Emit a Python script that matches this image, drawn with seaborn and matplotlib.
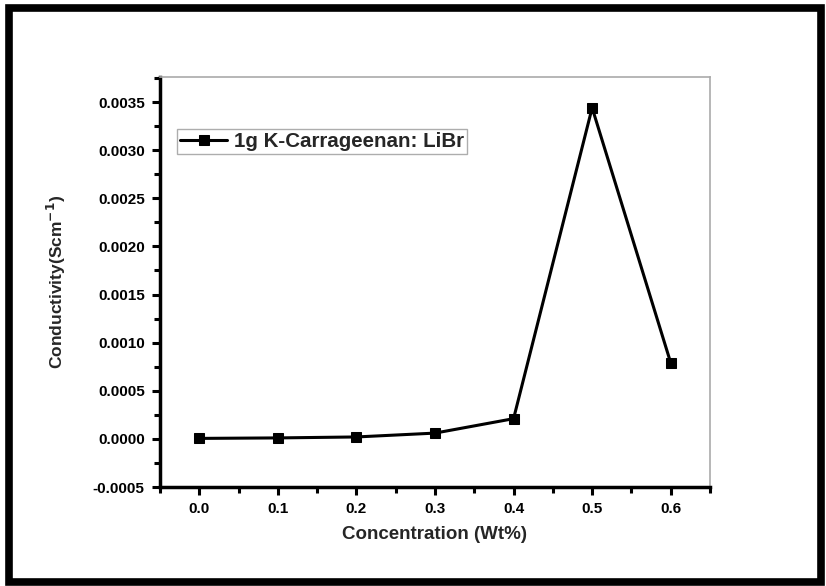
import matplotlib
matplotlib.use("Agg")
import matplotlib.pyplot as plt
import seaborn as sns
import pandas as pd
from matplotlib.patches import Rectangle
from matplotlib.ticker import MultipleLocator

concentration = [0.0, 0.1, 0.2, 0.3, 0.4, 0.5, 0.6]
conductivity = [0.000005, 0.00001, 0.00002, 0.00006, 0.00021, 0.00344, 0.00079]
series_label = "1g K-Carrageenan: LiBr"

sns.set_theme(style="white")
plt.rcParams['font.family'] = ['Liberation Sans', 'DejaVu Sans']
plt.rcParams['font.weight'] = 'bold'

df = pd.DataFrame({"x": concentration, "y": conductivity, "s": series_label})

fig = plt.figure(figsize=(8.26, 5.86), dpi=100)
ax = fig.add_axes([160/826, 1-487/586, 550/826, 410/586])

sns.lineplot(data=df, x="x", y="y", hue="s", palette=["black"], marker="s",
             markersize=7, markeredgecolor="black", linewidth=2.2, ax=ax, legend=True)

ax.set_xlim(-0.05, 0.65)
ax.set_ylim(-0.0005, 0.00376)
ax.xaxis.set_minor_locator(MultipleLocator(0.05))
ax.yaxis.set_minor_locator(MultipleLocator(0.00025))
ax.set_xticks([0.0, 0.1, 0.2, 0.3, 0.4, 0.5, 0.6])
ax.set_xticklabels(["0.0", "0.1", "0.2", "0.3", "0.4", "0.5", "0.6"])
yt = [-0.0005, 0.0, 0.0005, 0.0010, 0.0015, 0.0020, 0.0025, 0.0030, 0.0035]
ax.set_yticks(yt)
ax.set_yticklabels([f"{v:.4f}" for v in yt])

for s in ["left", "bottom"]:
    ax.spines[s].set_linewidth(2.5)
    ax.spines[s].set_color("black")
for s in ["top", "right"]:
    ax.spines[s].set_linewidth(1.2)
    ax.spines[s].set_color("#aaaaaa")

ax.tick_params(axis="both", which="major", direction="out", length=6, width=2.2,
               labelsize=11, colors="black")
ax.tick_params(axis="x", which="major", pad=5)
ax.tick_params(axis="y", which="major", pad=5)
ax.tick_params(axis="both", which="minor", direction="out", length=4, width=2.2, colors="black")
ax.tick_params(top=False, right=False, which="both")
ax.tick_params(left=True, bottom=True, which="both")
for lab in ax.get_xticklabels() + ax.get_yticklabels():
    lab.set_fontweight("bold")

ax.set_xlabel("Concentration (Wt%)", fontsize=13.5, fontweight="bold", labelpad=7)
ax.set_ylabel("Conductivity(Scm$^{\\mathbf{-1}}$)", fontsize=12.5, fontweight="bold", labelpad=18)

leg = ax.legend(loc="upper left", bbox_to_anchor=(0.031, 0.873), frameon=True, fancybox=False,
                fontsize=14.8, handlelength=2.3, borderpad=0.15, handletextpad=0.3,
                borderaxespad=0)
leg.get_frame().set_edgecolor("#999999")
leg.get_frame().set_linewidth(1.0)
for t in leg.get_texts():
    t.set_fontweight("bold")

fig.patches.append(Rectangle((9/826, 1-582/586), 812/826, 574/586, transform=fig.transFigure,
                             fill=False, edgecolor="black", linewidth=5.5))

fig.savefig("out.png", dpi=100, facecolor="white")
